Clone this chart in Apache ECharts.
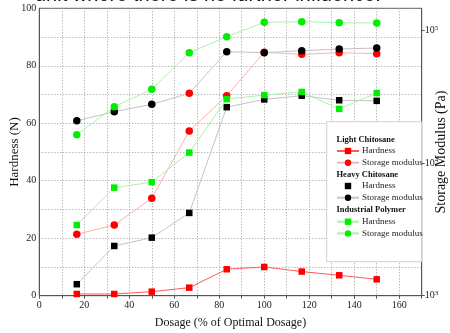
<!DOCTYPE html>
<html><head><meta charset="utf-8">
<script src="https://cdn.jsdelivr.net/npm/echarts@6/dist/echarts.min.js"></script>
<style>html,body{margin:0;padding:0;background:#fff}#c{width:450px;height:333px}</style>
</head><body><div id="c"></div>
<script>
// ---- data ----
const dosage = [16.67, 33.33, 50, 66.67, 83.33, 100, 116.67, 133.33, 150];
const lightHardness = [0.6, 0.6, 1.4, 2.8, 9.2, 10.0, 8.4, 7.1, 5.7];
const lightStorage = [2907, 3417, 5435, 17500, 32310, 68710, 66360, 68230, 67060];
const heavyHardness = [4.0, 17.3, 20.2, 28.8, 65.6, 68.3, 69.6, 68.0, 67.8];
const heavyStorage = [20930, 24470, 27820, 33690, 69430, 68230, 70630, 72760, 74030];
const industrialHardness = [24.6, 37.6, 39.5, 49.8, 68.4, 69.8, 70.9, 65.0, 70.5];
const industrialStorage = [16410, 26700, 36120, 68230, 90100, 115700, 116900, 114900, 114300];
const xTickLabels = [0, 20, 40, 60, 80, 100, 120, 140, 160];
const yTickLabels = [0, 20, 40, 60, 80, 100];
const groups = ['Light Chitosane', 'Heavy Chitosane', 'Industrial Polymer'];
const titleText = 'unit where there is no further influence.';

const SERIF = '"Liberation Serif", "DejaVu Serif", serif';
const chart = echarts.init(document.getElementById('c'), null, {renderer: 'canvas'});

function mk(name, vals, yIdx, symbol, color, lineColor, z, overrides) {
  return {
    name: name, type: 'line', yAxisIndex: yIdx,
    data: dosage.map((d, i) => {
      const item = {value: [d, vals[i]]};
      if (overrides && overrides[i]) item.itemStyle = overrides[i];
      return item;
    }),
    symbol: symbol, symbolSize: symbol === 'rect' ? 6.5 : 7.5,
    itemStyle: {color: color},
    lineStyle: {color: lineColor, width: 1},
    z: z, animation: false, emphasis: {disabled: true}
  };
}

const series = [
  mk(groups[0] + '|Hardness', lightHardness, 0, 'rect', '#ff0000', '#ff5a5a', 2),
  mk(groups[0] + '|Storage modulus', lightStorage, 1, 'circle', '#ff0000', '#ffb0b0', 3),
  mk(groups[1] + '|Hardness', heavyHardness, 0, 'rect', '#000000', '#c4c4c4', 4),
  mk(groups[1] + '|Storage modulus', heavyStorage, 1, 'circle', '#000000', '#c4c4c4', 5, {3: {color: '#ff0000'}}),
  mk(groups[2] + '|Hardness', industrialHardness, 0, 'rect', '#00ee00', '#a8f5a8', 6),
  mk(groups[2] + '|Storage modulus', industrialStorage, 1, 'circle', '#00ee00', '#a8f5a8', 7)
];

const rowH = 11.7;
const headerY = [139.3, 174.3, 210];
const legends = groups.map((g, gi) => ({
  orient: 'vertical', left: 336, top: headerY[gi] + rowH - rowH / 2,
  itemWidth: 22, itemHeight: 8, itemGap: 0, padding: 0, z: 10,
  data: [
    gi === 1 ? {name: g + '|Hardness', lineStyle: {opacity: 0}} : {name: g + '|Hardness'},
    {name: g + '|Storage modulus'}
  ],
  formatter: n => n.split('|')[1],
  textStyle: {fontFamily: SERIF, fontSize: 9, color: '#222', lineHeight: rowH, padding: [0, 0, 0, -2]},
  selectedMode: false
}));

const option = {
  animation: false,
  backgroundColor: '#fff',
  grid: {left: 39.3, right: 28.3, top: 8.3, bottom: 37.3, containLabel: false, outerBoundsMode: 'none',
    show: true, borderColor: '#555', borderWidth: 1, backgroundColor: 'transparent'},
  xAxis: {
    type: 'value', min: 0, max: 170, interval: 10,
    name: 'Dosage (% of Optimal Dosage)', nameLocation: 'middle', nameGap: 21, nameMoveOverlap: false,
    nameTextStyle: {fontFamily: SERIF, fontSize: 12, color: '#111'},
    axisLine: {lineStyle: {color: '#555'}},
    axisTick: {show: true, length: 3, lineStyle: {color: '#555'}},
    axisLabel: {fontFamily: SERIF, fontSize: 10, color: '#222', margin: 5,
      formatter: v => xTickLabels.includes(v) ? String(v) : ''},
    splitLine: {show: true, lineStyle: {color: '#9a9a9a', type: [1, 2], width: 1}}
  },
  yAxis: [{
    type: 'value', min: 0, max: 100, interval: 10, position: 'left',
    name: 'Hardness (N)', nameLocation: 'middle', nameGap: 18, nameRotate: 90, nameMoveOverlap: false,
    nameTextStyle: {fontFamily: SERIF, fontSize: 13, color: '#111'},
    axisLine: {show: true, lineStyle: {color: '#555'}},
    axisTick: {show: false},
    axisLabel: {fontFamily: SERIF, fontSize: 10, color: '#222', margin: 3,
      formatter: v => yTickLabels.includes(v) ? String(v) : ''},
    splitLine: {show: true, lineStyle: {color: '#9a9a9a', type: [1, 2], width: 1}}
  }, {
    type: 'log', logBase: 10, min: 1000, max: 147600, position: 'right',
    name: 'Storage Modulus (Pa)', nameLocation: 'middle', nameGap: 13, nameRotate: 90, nameMoveOverlap: false,
    nameTextStyle: {fontFamily: SERIF, fontSize: 14, color: '#111'},
    axisLine: {show: true, lineStyle: {color: '#555'}},
    axisTick: {show: true, length: 3, lineStyle: {color: '#555'}},
    axisLabel: {fontFamily: SERIF, fontSize: 10, color: '#222', margin: 3, showMaxLabel: false,
      formatter: v => {
        const e = Math.round(Math.log10(v));
        if (Math.abs(Math.log10(v) - e) > 1e-6) return '';
        return '10{s|' + e + '}';
      },
      rich: {s: {fontFamily: SERIF, fontSize: 7, verticalAlign: 'top', padding: [0, 0, 6, 0]}}
    },
    splitLine: {show: false}
  }],
  legend: legends,
  graphic: [
    {type: 'rect', z: 9, shape: {x: 326.7, y: 121.7, width: 95, height: 140},
      style: {fill: '#fff', stroke: '#cfcfcf', lineWidth: 1}},
    ...groups.map((g, gi) => ({type: 'text', z: 11, x: 336.5, y: headerY[gi],
      style: {text: g, font: 'bold 8.5px ' + SERIF, fill: '#111', verticalAlign: 'middle', align: 'left'}})),
    {type: 'text', z: 11, x: 35, y: 5,
      style: {text: titleText, font: '20px "Liberation Sans", Arial, sans-serif', fill: '#111', verticalAlign: 'bottom', align: 'left'}}
  ],
  series: series
};
chart.setOption(option);
</script></body></html>
